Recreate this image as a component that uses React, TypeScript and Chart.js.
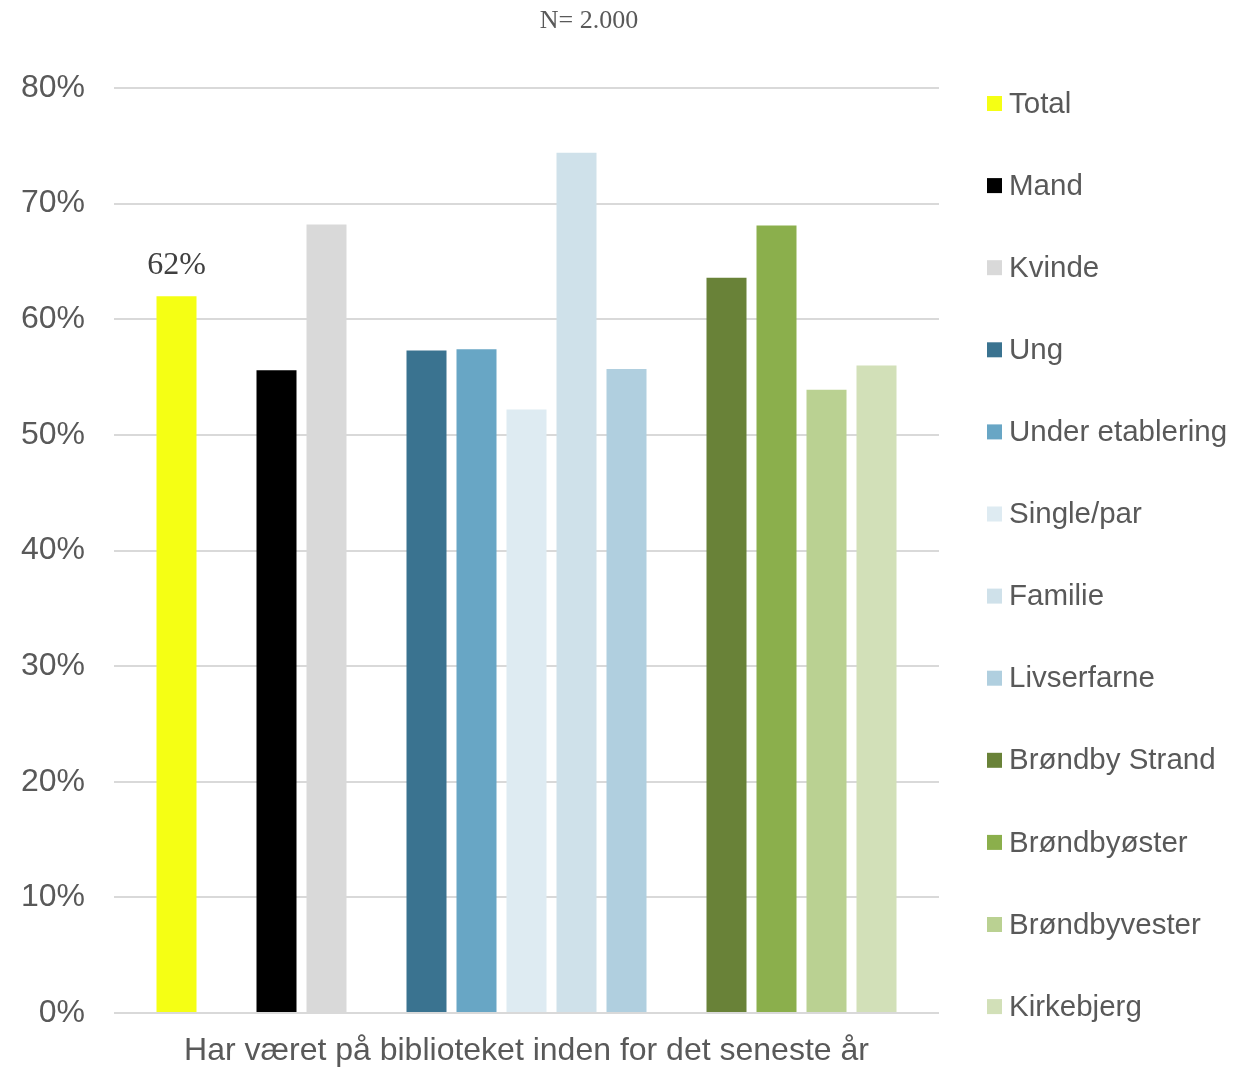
import React, { useEffect, useRef } from 'react';
import { Chart, registerables } from 'chart.js';

Chart.register(...registerables);

const categories = ['Har været på biblioteket inden for det seneste år'];
const seriesNames = [
  'Total',
  'Mand',
  'Kvinde',
  'Ung',
  'Under etablering',
  'Single/par',
  'Familie',
  'Livserfarne',
  'Brøndby Strand',
  'Brøndbyøster',
  'Brøndbyvester',
  'Kirkebjerg',
];
const seriesValues = [62.0, 55.6, 68.2, 57.3, 57.4, 52.2, 74.4, 55.7, 63.6, 68.1, 53.9, 56.0];
const seriesColors = [
  '#f5ff14',
  '#000000',
  '#d9d9d9',
  '#3a7390',
  '#68a6c5',
  '#deebf2',
  '#cfe1ea',
  '#b0cfdf',
  '#698238',
  '#8baf4c',
  '#bad192',
  '#d2e0b8',
];
// empty slots follow these series (group separators)
const groupEnds = [0, 2, 7];
const labelledSeries = ['Total'];
const yTickValues = [0, 10, 20, 30, 40, 50, 60, 70, 80];
const titleText = 'N= 2.000';

const TEXT = '#595959';
const SANS = '"Liberation Sans", Arial, sans-serif';
const SERIF = '"Liberation Serif", "Times New Roman", serif';

export default function App() {
  const ref = useRef<HTMLCanvasElement | null>(null);

  useEffect(() => {
    if (!ref.current) return;

    const datasets: any[] = [];
    seriesNames.forEach((name, i) => {
      datasets.push({
        label: name,
        data: [seriesValues[i]],
        backgroundColor: seriesColors[i],
        borderWidth: 0,
        barPercentage: 0.8,
        categoryPercentage: 750 / 825,
      });
      if (groupEnds.includes(i)) {
        datasets.push({
          label: '',
          data: [null],
          backgroundColor: 'rgba(0,0,0,0)',
          borderWidth: 0,
          barPercentage: 0.8,
          categoryPercentage: 750 / 825,
          spacer: true,
        });
      }
    });

    const extras = {
      id: 'extras',
      afterDatasetsDraw(chart: any) {
        const { ctx, chartArea } = chart;
        ctx.save();
        // title
        ctx.fillStyle = TEXT;
        ctx.font = `26px ${SERIF}`;
        ctx.textAlign = 'center';
        ctx.textBaseline = 'middle';
        ctx.fillText(titleText, chartArea.left + 475, 13);

        // data labels
        chart.data.datasets.forEach((ds: any, di: number) => {
          if (!labelledSeries.includes(ds.label)) return;
          const meta = chart.getDatasetMeta(di);
          meta.data.forEach((el: any, j: number) => {
            const v = ds.data[j];
            if (v == null) return;
            ctx.fillStyle = '#404040';
            ctx.font = `32px ${SERIF}`;
            ctx.textAlign = 'center';
            ctx.textBaseline = 'middle';
            ctx.fillText(`${Math.round(v)}%`, el.x, el.y - 31);
          });
        });

        // legend
        const boxX = chartArea.right + 48;
        const startY = chartArea.top + 15.5;
        const step = 82.1;
        seriesNames.forEach((name, i) => {
          const cy = startY + i * step;
          ctx.fillStyle = seriesColors[i];
          ctx.fillRect(boxX, cy - 7.5, 15, 15);
          ctx.fillStyle = TEXT;
          ctx.font = `29.5px ${SANS}`;
          ctx.textAlign = 'left';
          ctx.textBaseline = 'middle';
          ctx.fillText(name, boxX + 22, cy + 1);
        });
        ctx.restore();
      },
    };

    const chart = new Chart(ref.current, {
      type: 'bar',
      data: { labels: categories, datasets },
      options: {
        animation: false,
        responsive: true,
        maintainAspectRatio: false,
        layout: { padding: { top: 80, right: 304, bottom: 0, left: 0 } },
        plugins: {
          legend: { display: false },
          title: { display: false },
          tooltip: { enabled: false },
        },
        scales: {
          x: {
            grid: { display: false, drawTicks: false },
            border: { display: false },
            ticks: {
              color: TEXT,
              font: { family: SANS, size: 32 },
              padding: 19,
              maxRotation: 0,
            },
            afterFit: (s: any) => {
              s.height = 54;
            },
          },
          y: {
            min: 0,
            max: 80,
            grid: { color: '#d9d9d9', lineWidth: 2, drawTicks: false },
            border: { display: false },
            afterBuildTicks: (s: any) => {
              s.ticks = yTickValues.map((v) => ({ value: v }));
            },
            ticks: {
              color: TEXT,
              font: { family: SANS, size: 32 },
              padding: 29,
              callback: (v: any) => `${v}%`,
            },
            afterFit: (s: any) => {
              s.width = 106;
            },
          },
        },
      },
      plugins: [extras],
    });

    return () => chart.destroy();
  }, []);

  return (
    <div style={{ width: 1235, height: 1059, position: 'relative' }}>
      <canvas ref={ref} />
    </div>
  );
}
